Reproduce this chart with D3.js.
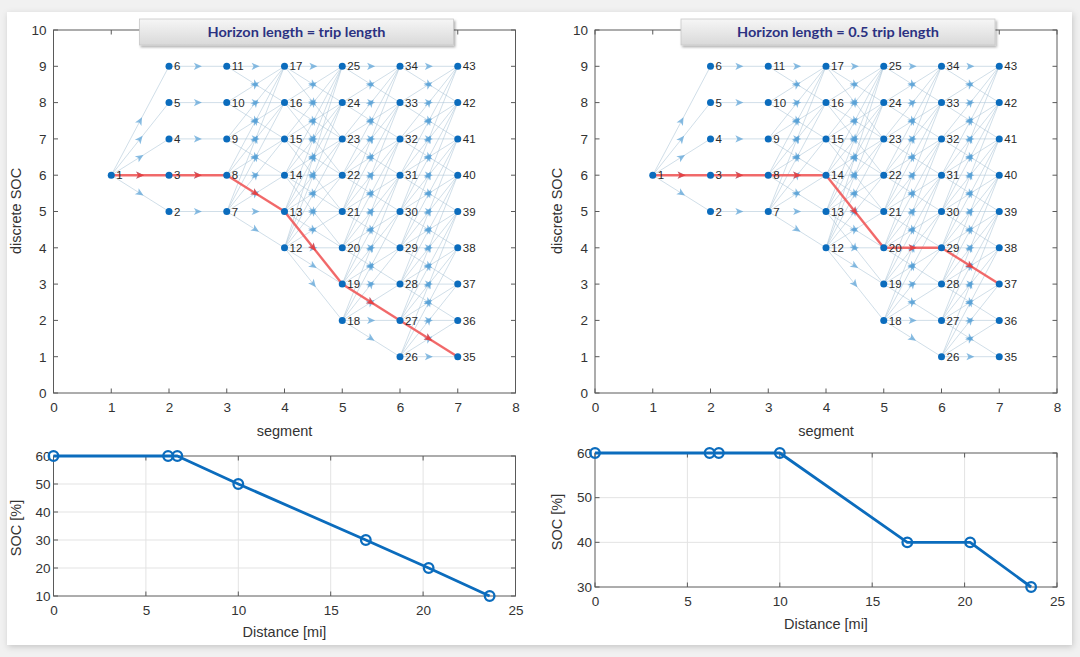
<!DOCTYPE html>
<html><head><meta charset="utf-8">
<script src="https://cdn.jsdelivr.net/npm/d3@7/dist/d3.min.js"></script>
<style>
body{margin:0;background:#f1f1f1;}
svg{display:block;font-family:"Liberation Sans",Arial,Helvetica,sans-serif;}
</style>
</head><body>
<svg id="c" width="1080" height="657"></svg>
<script>
// ---------------- data ----------------
const segments = [1, 2, 3, 4, 5, 6, 7];
const socLevels = [
  [6],
  [5, 6, 7, 8, 9],
  [5, 6, 7, 8, 9],
  [4, 5, 6, 7, 8, 9],
  [2, 3, 4, 5, 6, 7, 8, 9],
  [1, 2, 3, 4, 5, 6, 7, 8, 9],
  [1, 2, 3, 4, 5, 6, 7, 8, 9]
];
const maxDrop = [1, 0, 1, 2, 1, 1];
const maxRise = [3, 0, 4, 5, 4, 4];
const pathFull = [1, 3, 8, 13, 19, 27, 35];
const pathHalf = [1, 3, 8, 14, 20, 29, 37];
const titles = ["Horizon length = trip length", "Horizon length = 0.5 trip length"];
const segTicks = [0, 1, 2, 3, 4, 5, 6, 7, 8];
const socTicks = [0, 1, 2, 3, 4, 5, 6, 7, 8, 9, 10];
const distance = [0, 6.2, 6.7, 10, 16.9, 20.3, 23.6];
const socFull = [60, 60, 60, 50, 30, 20, 10];
const socHalf = [60, 60, 60, 60, 40, 40, 30];
const distTicks = [0, 5, 10, 15, 20, 25];
const socPctTicksFull = [10, 20, 30, 40, 50, 60];
const socPctTicksHalf = [30, 40, 50, 60];

// ---------------- graph structure ----------------
const nodes = [];
let nid = 1;
segments.forEach((s, k) => socLevels[k].forEach(v => nodes.push({id: nid++, seg: s, soc: v, k})));
const byId = new Map(nodes.map(n => [n.id, n]));
const edges = [];
for (let k = 0; k < segments.length - 1; k++) {
  const A = nodes.filter(n => n.k === k), B = nodes.filter(n => n.k === k + 1);
  A.forEach(a => B.forEach(b => {
    const d = b.soc - a.soc;
    if (d >= -maxDrop[k] && d <= maxRise[k]) edges.push({s: a, t: b});
  }));
}

const svg = d3.select("#c");
const defs = svg.append("defs");
const f1 = defs.append("filter").attr("id", "cardsh").attr("x", "-5%").attr("y", "-5%").attr("width", "110%").attr("height", "110%");
f1.append("feDropShadow").attr("dx", 1).attr("dy", 2).attr("stdDeviation", 3).attr("flood-color", "#000").attr("flood-opacity", 0.18);
const f2 = defs.append("filter").attr("id", "boxsh").attr("x", "-10%").attr("y", "-30%").attr("width", "120%").attr("height", "170%");
f2.append("feDropShadow").attr("dx", 1.5).attr("dy", 2).attr("stdDeviation", 1.2).attr("flood-color", "#000").attr("flood-opacity", 0.3);
const gr = defs.append("linearGradient").attr("id", "tg").attr("x1", 0).attr("y1", 0).attr("x2", 0).attr("y2", 1);
gr.append("stop").attr("offset", "0%").attr("stop-color", "#f6f6f6");
gr.append("stop").attr("offset", "100%").attr("stop-color", "#d9d9d9");

// card
svg.append("rect").attr("x", 7).attr("y", 12).attr("width", 1065).attr("height", 633)
  .attr("fill", "#fff").attr("filter", "url(#cardsh)");

const AX = "#5a5a5a", TXT = "#333";

function boxAxes(g, x, y, xt, yt, opts) {
  const [x0, x1] = x.range(), [y0, y1] = y.range();
  const tl = 4.5;
  if (opts.grid) {
    g.append("g").selectAll("line").data(xt.slice(1, -1)).join("line")
      .attr("x1", d => x(d)).attr("x2", d => x(d)).attr("y1", y0).attr("y2", y1)
      .attr("stroke", "#e3e3e3").attr("stroke-width", 1);
    g.append("g").selectAll("line").data(yt.slice(1, -1)).join("line")
      .attr("y1", d => y(d)).attr("y2", d => y(d)).attr("x1", x0).attr("x2", x1)
      .attr("stroke", "#e3e3e3").attr("stroke-width", 1);
  }
  const tk = g.append("g").attr("stroke", AX).attr("stroke-width", 1);
  xt.forEach(d => {
    tk.append("line").attr("x1", x(d)).attr("x2", x(d)).attr("y1", y0).attr("y2", y0 - tl);
    tk.append("line").attr("x1", x(d)).attr("x2", x(d)).attr("y1", y1).attr("y2", y1 + tl);
  });
  yt.forEach(d => {
    tk.append("line").attr("y1", y(d)).attr("y2", y(d)).attr("x1", x0).attr("x2", x0 + tl);
    tk.append("line").attr("y1", y(d)).attr("y2", y(d)).attr("x1", x1).attr("x2", x1 - tl);
  });
  g.append("rect").attr("x", x0).attr("y", y1).attr("width", x1 - x0).attr("height", y0 - y1)
    .attr("fill", "none").attr("stroke", AX).attr("stroke-width", 1);
  const xa = g.append("g").attr("transform", `translate(0,${y0})`)
    .call(d3.axisBottom(x).tickValues(xt).tickSize(0).tickPadding(opts.xpad));
  const ya = g.append("g").attr("transform", `translate(${x0},0)`)
    .call(d3.axisLeft(y).tickValues(yt).tickSize(0).tickPadding(opts.ypad));
  [xa, ya].forEach(a => {
    a.select(".domain").remove();
    a.selectAll("text").attr("font-size", 13.5).attr("fill", TXT)
      .attr("font-family", '"Liberation Sans",Arial,sans-serif');
  });
}

function arrowPath(p, q, L, W) {
  const ang = Math.atan2(q[1] - p[1], q[0] - p[0]);
  const mx = (p[0] + q[0]) / 2, my = (p[1] + q[1]) / 2;
  const c = Math.cos(ang), s = Math.sin(ang);
  const pt = (u, v) => [mx + u * c - v * s, my + u * s + v * c];
  const pts = [pt(L / 2, 0), pt(-L / 2, W), pt(-L / 4, 0), pt(-L / 2, -W)];
  return "M" + pts.map(d => d.join(",")).join("L") + "Z";
}

function drawGraph(ox, pathIds, title) {
  const g = svg.append("g");
  const x = d3.scaleLinear().domain([0, 8]).range([ox, ox + 462]);
  const y = d3.scaleLinear().domain([0, 10]).range([393, 30]);
  boxAxes(g, x, y, segTicks, socTicks, {grid: false, xpad: 9, ypad: 7});
  const P = n => [x(n.seg), y(n.soc)];
  g.append("g").selectAll("line").data(edges).join("line")
    .attr("x1", d => P(d.s)[0]).attr("y1", d => P(d.s)[1])
    .attr("x2", d => P(d.t)[0]).attr("y2", d => P(d.t)[1])
    .attr("stroke", "#a9c3d6").attr("stroke-opacity", 0.55).attr("stroke-width", 1);
  g.append("g").selectAll("path").data(edges).join("path")
    .attr("d", d => arrowPath(P(d.s), P(d.t), 8, 3.6))
    .attr("fill", "#56a0d6").attr("fill-opacity", 0.7);
  const pe = d3.pairs(pathIds).map(([a, b]) => ({s: byId.get(a), t: byId.get(b)}));
  g.append("path").attr("d", d3.line()(pathIds.map(i => P(byId.get(i)))))
    .attr("fill", "none").attr("stroke", "#f25252").attr("stroke-opacity", 0.85).attr("stroke-width", 2.4);
  g.append("g").selectAll("path").data(pe).join("path")
    .attr("d", d => arrowPath(P(d.s), P(d.t), 8, 3.6))
    .attr("fill", "#e83a3a").attr("fill-opacity", 0.8);
  g.append("g").selectAll("circle").data(nodes).join("circle")
    .attr("cx", d => P(d)[0]).attr("cy", d => P(d)[1]).attr("r", 3.5).attr("fill", "#0b6cbd");
  g.append("g").selectAll("text").data(nodes).join("text")
    .attr("x", d => P(d)[0] + 5).attr("y", d => P(d)[1]).attr("dy", "0.36em")
    .attr("font-size", 11.5).attr("fill", "#2a2a2a").text(d => d.id);
  g.append("text").attr("x", x(4)).attr("y", 436).attr("text-anchor", "middle")
    .attr("font-size", 14.5).attr("fill", TXT).text("segment");
  g.append("text").attr("transform", `translate(${ox - 33},211) rotate(-90)`).attr("text-anchor", "middle")
    .attr("font-size", 14.5).attr("fill", TXT).text("discrete SOC");
  const bx = ox + 86, bw = 314;
  g.append("rect").attr("x", bx).attr("y", 19).attr("width", bw).attr("height", 26)
    .attr("fill", "url(#tg)").attr("stroke", "#c9c9c9").attr("stroke-width", 0.8).attr("filter", "url(#boxsh)");
  const tw = title.length > 30 ? 202 : 178;
  g.append("text").attr("x", bx + bw / 2).attr("y", 32).attr("dy", "0.36em").attr("text-anchor", "middle")
    .attr("font-family", "Lato, 'Open Sans', sans-serif").attr("font-weight", 700)
    .attr("font-size", 13.5).attr("fill", "#2b3181")
    .attr("textLength", tw).attr("lengthAdjust", "spacingAndGlyphs").text(title);
}

function drawSoc(ox, top, bottom, soc, yTicks, xlabY) {
  const g = svg.append("g");
  const x = d3.scaleLinear().domain([0, 25]).range([ox, ox + 462]);
  const y = d3.scaleLinear().domain([yTicks[0], yTicks[yTicks.length - 1]]).range([bottom, top]);
  boxAxes(g, x, y, distTicks, yTicks, {grid: true, xpad: 9, ypad: 3});
  const pts = distance.map((d, i) => [x(d), y(soc[i])]);
  g.append("path").attr("d", d3.line()(pts)).attr("fill", "none")
    .attr("stroke", "#0b6cbd").attr("stroke-width", 2.8).attr("stroke-linejoin", "round");
  g.append("g").selectAll("circle").data(pts).join("circle")
    .attr("cx", d => d[0]).attr("cy", d => d[1]).attr("r", 4.8)
    .attr("fill", "none").attr("stroke", "#0b6cbd").attr("stroke-width", 2.3);
  g.append("text").attr("x", x(12.5)).attr("y", xlabY).attr("dy", "0.36em").attr("text-anchor", "middle")
    .attr("font-size", 14.5).attr("fill", TXT).text("Distance [mi]");
  g.append("text").attr("transform", `translate(${ox - 33},${(top + bottom) / 2 + 2}) rotate(-90)`)
    .attr("text-anchor", "middle").attr("font-size", 14.5).attr("fill", TXT).text("SOC [%]");
}

drawGraph(53.5, pathFull, titles[0]);
drawGraph(595, pathHalf, titles[1]);
drawSoc(53.5, 456, 596, socFull, socPctTicksFull, 632);
drawSoc(595, 453, 587, socHalf, socPctTicksHalf, 624);
</script>
</body></html>
